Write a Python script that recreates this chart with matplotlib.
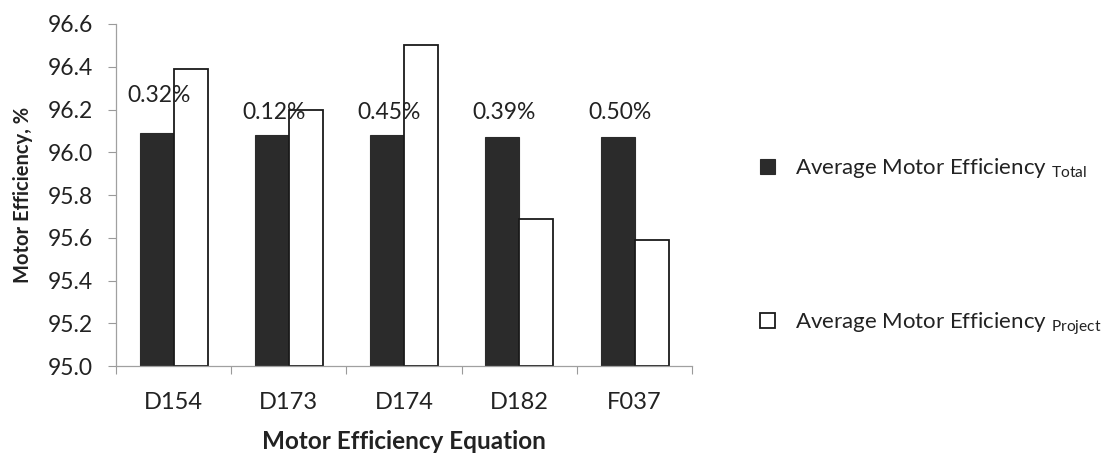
import matplotlib
matplotlib.use("Agg")
import matplotlib.pyplot as plt
import numpy as np
from matplotlib.ticker import FixedLocator, MultipleLocator, FormatStrFormatter

plt.rcParams['font.family'] = ['Lato', 'DejaVu Sans']
plt.rcParams['mathtext.fontset'] = 'custom'
plt.rcParams['mathtext.rm'] = 'Lato'
plt.rcParams['mathtext.it'] = 'Lato'

# Data
equations = ["D154", "D173", "D174", "D182", "F037"]
eff_total = [96.09, 96.08, 96.08, 96.07, 96.07]
eff_project = [96.39, 96.20, 96.50, 95.69, 95.59]
diff_labels = ["0.32%", "0.12%", "0.45%", "0.39%", "0.50%"]
diff_label_y = [96.265, 96.185, 96.185, 96.185, 96.185]

text_color = "#222222"
dark = "#2b2b2b"

fig = plt.figure(figsize=(11.08, 4.57), dpi=100)
ax = fig.add_axes([0.1047, 0.199, 0.52, 0.7485])

x = np.arange(len(equations))
w = 0.295
b_total = ax.bar(x - w / 2, np.array(eff_total) - 95.0, width=w, bottom=95.0,
                 color=dark, edgecolor=dark, linewidth=0.8)
b_proj = ax.bar(x + w / 2, np.array(eff_project) - 95.0, width=w, bottom=95.0,
                color="white", edgecolor="#1a1a1a", linewidth=1.3)

for xi, lab, ly in zip(x, diff_labels, diff_label_y):
    ax.text(xi - 0.13, ly, lab, ha="center", va="center", fontsize=16.5,
            color=text_color)

ax.set_xlim(-0.5, len(equations) - 0.5)
ax.set_ylim(95.0, 96.6)
ax.yaxis.set_major_locator(MultipleLocator(0.2))
ax.yaxis.set_major_formatter(FormatStrFormatter("%.1f"))

ax.set_xticks(x)
ax.set_xticklabels(equations)
ax.xaxis.set_minor_locator(FixedLocator(np.arange(-0.5, len(equations), 1.0)))
ax.tick_params(axis="x", which="major", length=0, pad=19, labelsize=17,
               labelcolor=text_color)
ax.tick_params(axis="x", which="minor", length=5.8, color="#9a9a9a", width=0.8)
ax.tick_params(axis="y", which="major", length=5.8, color="#9a9a9a", width=0.8,
               pad=11, labelsize=16.5, labelcolor=text_color)

for s in ["top", "right"]:
    ax.spines[s].set_visible(False)
for s in ["left", "bottom"]:
    ax.spines[s].set_color("#a0a0a0")
    ax.spines[s].set_linewidth(0.9)

ax.set_xlabel("Motor Efficiency Equation", fontsize=17.5, fontweight="bold",
              color=text_color, labelpad=12)
ax.set_ylabel("Motor Efficiency, %", fontsize=14.5, fontweight="bold",
              color=text_color, labelpad=10)

leg = fig.legend([b_total, b_proj],
                 [r"Average Motor Efficiency $_{\mathrm{Total}}$",
                  r"Average Motor Efficiency $_{\mathrm{Project}}$"],
                 loc="upper left", bbox_to_anchor=(0.668, 0.702),
                 frameon=False, fontsize=16, handlelength=0.68,
                 handleheight=0.68, handletextpad=0.9, labelspacing=5.85,
                 labelcolor=text_color)

fig.savefig("out.png", dpi=100, facecolor="white")
